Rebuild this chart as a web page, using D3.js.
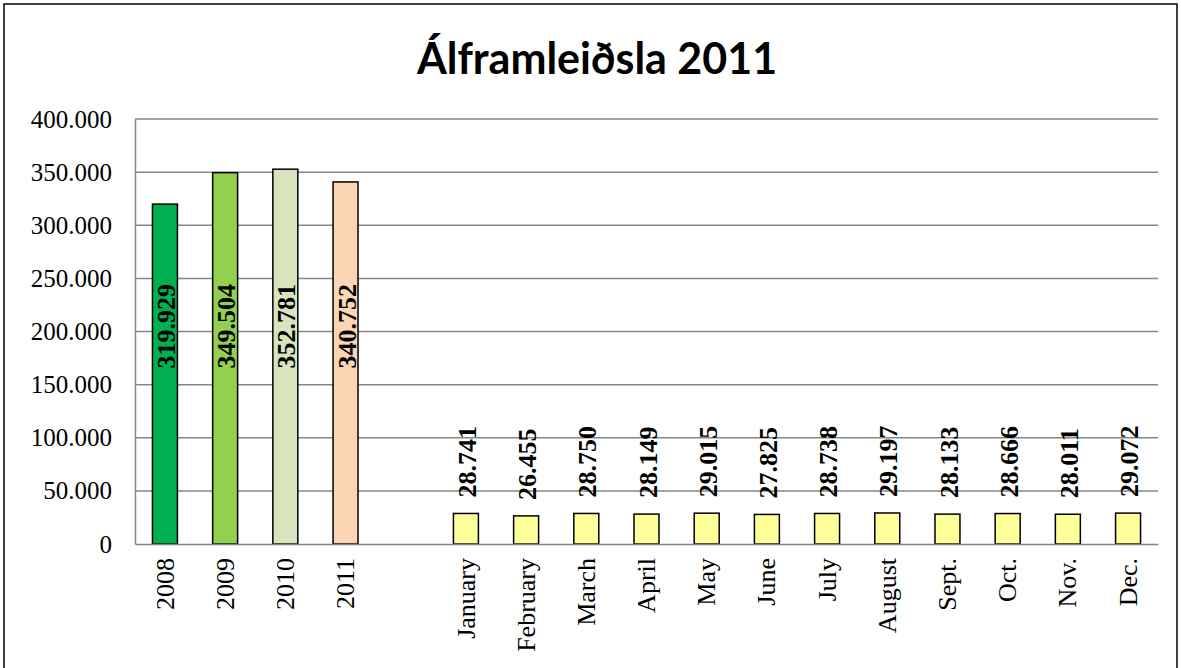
<!DOCTYPE html>
<html><head><meta charset="utf-8">
<script src="https://cdn.jsdelivr.net/npm/d3@7"></script>
<style>body{margin:0;background:#fff}svg{display:block}</style>
</head><body>
<svg id="c" width="1181" height="668"></svg>
<script>
const categories = ["2008","2009","2010","2011","","January","February","March","April","May","June","July","August","Sept.","Oct.","Nov.","Dec."];
const values = [319929,349504,352781,340752,null,28741,26455,28750,28149,29015,27825,28738,29197,28133,28666,28011,29072];
const labels = ["319.929","349.504","352.781","340.752","","28.741","26.455","28.750","28.149","29.015","27.825","28.738","29.197","28.133","28.666","28.011","29.072"];
const colors = ["#00B050","#92D050","#D7E4BD","#FCD5B5",null,"#FFFF99","#FFFF99","#FFFF99","#FFFF99","#FFFF99","#FFFF99","#FFFF99","#FFFF99","#FFFF99","#FFFF99","#FFFF99","#FFFF99"];
const yTicks = [0,50000,100000,150000,200000,250000,300000,350000,400000];
const yTickLabels = ["0","50.000","100.000","150.000","200.000","250.000","300.000","350.000","400.000"];
const title = "Álframleiðsla 2011";

const svg = d3.select("#c");
const L=135, R=1158, T=119, B=544;
const x = d3.scaleBand().domain(d3.range(categories.length)).range([L,R]).paddingInner(0.585).paddingOuter(0.29);
const y = d3.scaleLinear().domain([0,400000]).range([B,T]);

// frame
svg.append("rect").attr("x",4).attr("y",4).attr("width",1173).attr("height",680)
  .attr("fill","none").attr("stroke","#000").attr("stroke-width",1.5);

svg.append("text").attr("x",597).attr("y",74).attr("text-anchor","middle")
  .attr("font-family","Lato, 'Open Sans', sans-serif").attr("font-weight","bold")
  .attr("font-size",43).attr("fill","#000").text(title);

// gridlines
svg.append("g").selectAll("line").data(yTicks.filter(d=>d>0)).join("line")
  .attr("x1",L).attr("x2",R).attr("y1",d=>y(d)).attr("y2",d=>y(d))
  .attr("stroke","#868686").attr("stroke-width",1.5);

// y axis
const ya = svg.append("g").attr("transform",`translate(${L},0)`)
  .call(d3.axisLeft(y).tickValues(yTicks).tickFormat((d,i)=>yTickLabels[i]).tickSize(0).tickPadding(23));
ya.select(".domain").attr("stroke","#868686").attr("stroke-width",1.5);
ya.selectAll("text").attr("font-family","'Liberation Serif','Times New Roman',serif").attr("font-size",25).attr("fill","#000");

// bars
const idx = d3.range(categories.length).filter(i=>values[i]!=null);
svg.append("g").selectAll("rect").data(idx).join("rect")
  .attr("x",i=>x(i)).attr("width",x.bandwidth())
  .attr("y",i=>y(values[i])).attr("height",i=>B-y(values[i]))
  .attr("fill",i=>colors[i]).attr("stroke","#000").attr("stroke-width",1.5);

// x axis
const xa = svg.append("g").attr("transform",`translate(0,${B})`)
  .call(d3.axisBottom(x).tickFormat(i=>categories[i]).tickSize(0));
xa.select(".domain").attr("stroke","#868686").attr("stroke-width",1.5);
xa.selectAll("text").attr("font-family","'Liberation Serif','Times New Roman',serif").attr("font-size",26).attr("fill","#000")
  .attr("transform","rotate(-90)").attr("text-anchor","end").attr("x",-14).attr("y",0).attr("dy","0.33em");

// data labels
svg.append("g").selectAll("text").data(idx).join("text")
  .attr("transform",i=>{
    const cx = x(i)+x.bandwidth()/2+1;
    const cy = i<4 ? y(205000) : y(values[i])-16;
    return `translate(${cx},${cy}) rotate(-90)`;
  })
  .attr("text-anchor",i=>i<4?"middle":"start").attr("dy","0.35em")
  .attr("font-family","'Liberation Serif','Times New Roman',serif").attr("font-weight","bold")
  .attr("font-size",26).attr("fill","#000").text(i=>labels[i]);
</script>
</body></html>
